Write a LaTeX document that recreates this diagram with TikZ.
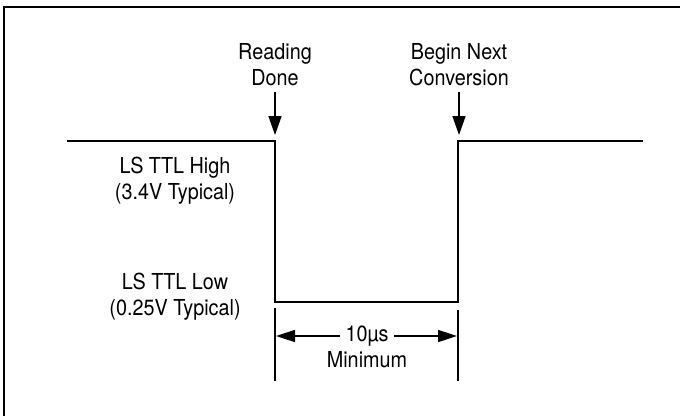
\documentclass[tikz,border=0pt]{standalone}
\usepackage{fontspec}
\setmainfont{TeX Gyre Heros}[FakeStretch=0.9]
\usetikzlibrary{arrows.meta}

\begin{document}
\begin{tikzpicture}[x=1pt,y=-1pt,
   lbl/.style={inner sep=0pt,align=center,font=\fontsize{22}{26}\selectfont},
   sig/.style={line width=2.2pt},
   pointer/.style={line width=1.6pt,-{Triangle[length=19pt,width=13pt]}}]
   \useasboundingbox (0,0) rectangle (680,418);
   % frame
   \draw[line width=1.3pt] (680,7) -- (4,7) -- (4,416);

   % signal
   \draw[sig] (67,141) -- (275,141) -- (275,302) -- (458,302) -- (458,141) -- (643,141);

   % events
   \node[lbl] (rd) at (275,65) {Reading\\Done};
   \node[lbl] (bn) at (459,65) {Begin Next\\Conversion};
   \coordinate (rdtip) at (275,135);
   \coordinate (bntip) at (459,135);
   \draw[pointer] (rd.south) ++(0,6) -- (rdtip);
   \draw[pointer] (bn.south) ++(0,6) -- (bntip);

   % levels
   \node[lbl] (hi) at (175,181) {LS TTL High\\(3.4V Typical)};
   \node[lbl] (lo) at (175,297) {LS TTL Low\\(0.25V Typical)};

   % minimum width
   \coordinate (la) at (276,336);
   \coordinate (ra) at (457,336);
   \draw[line width=2pt] (275,308) -- (275,381);
   \draw[line width=2pt] (458,310) -- (458,381);
   \node[lbl] (ten) at (367,336) {10µs};
   \node[lbl] (min) at (367,360) {Minimum};
   \draw[line width=1.6pt,-{Triangle[length=19pt,width=12pt]}] (ten.west) ++(-5,0) -- (la);
   \draw[line width=1.6pt,-{Triangle[length=19pt,width=12pt]}] (ten.east) ++(5,0) -- (ra);
\end{tikzpicture}
\end{document}
